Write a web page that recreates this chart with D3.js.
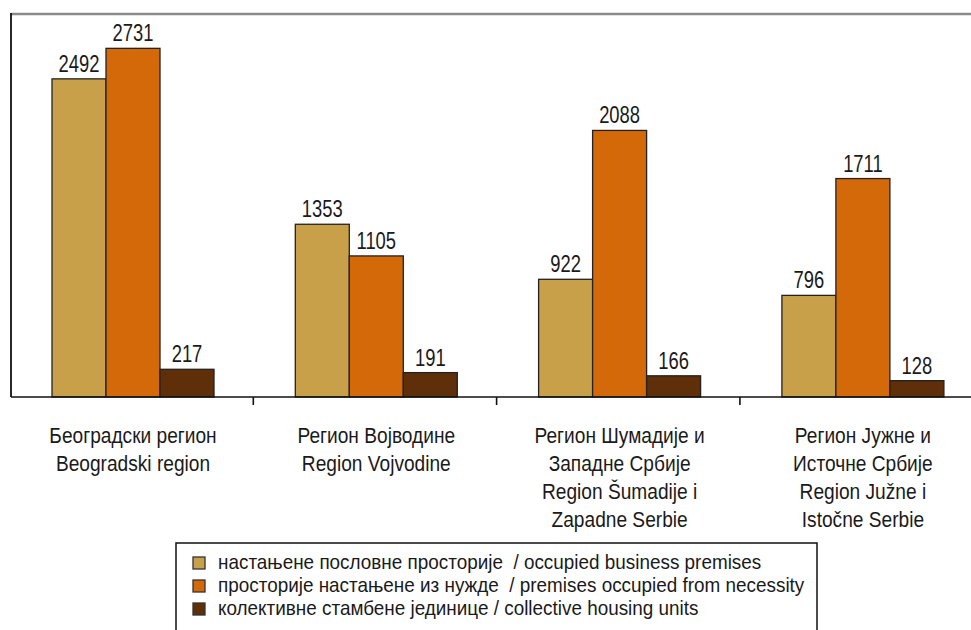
<!DOCTYPE html>
<html>
<head>
<meta charset="utf-8">
<script src="https://cdn.jsdelivr.net/npm/d3@7"></script>
<style>
  body { margin: 0; background: #fff; }
  text { font-family: "Liberation Sans", Arial, sans-serif; fill: #1a1a1a; white-space: pre; }
</style>
</head>
<body>
<svg id="chart" width="971" height="630"></svg>
<script>
// regions (two lines each: Cyrillic + Latin)
var regions = ["beo", "voj", "sum", "juz"];
var regionLabels = [
    ["Београдски регион", "Beogradski region"],
    ["Регион Војводине", "Region Vojvodine"],
    ["Регион Шумадије и", "Западне Србије", "Region Šumadije i", "Zapadne Serbie"],
    ["Регион Јужне и", "Источне Србије", "Region Južne i", "Istočne Serbie"]
];
var seriesNames = [
    "настањене пословне просторије  / occupied business premises",
    "просторије настањене из нужде  / premises occupied from necessity",
    "колективне стамбене јединице / collective housing units"
];
var business = [2492, 1353, 922, 796];
var necessity = [2731, 1105, 2088, 1711];
var collective = [217, 191, 166, 128];
var colors = ["#c9a04a", "#d4690a", "#5e2f08"];

var series = [business, necessity, collective];

var svg = d3.select("#chart");

var plotLeft = 11, plotTop = 14, plotBottom = 397;
var step = 243.3;

// narrow-looking text: put at (x,y) and squeeze horizontally
function narrowText(sel, tx, ty, sx, size, anchor, str) {
    return sel.append("text")
        .attr("transform", "translate(" + tx + "," + ty + ") scale(" + sx + ",1)")
        .attr("text-anchor", anchor)
        .style("font-size", size + "px")
        .text(str);
}

var x = d3.scaleBand()
    .domain(regions)
    .range([plotLeft, plotLeft + step * regions.length])
    .paddingInner(0)
    .paddingOuter(0);

var xInner = d3.scaleBand()
    .domain([0, 1, 2])
    .range([41, 41 + 162]);

var y = d3.scaleLinear()
    .domain([0, 3000])
    .range([plotBottom, plotTop]);

// top frame line
svg.append("line")
    .attr("x1", plotLeft).attr("x2", 971)
    .attr("y1", plotTop).attr("y2", plotTop)
    .style("stroke", "#8a8a8a")
    .style("stroke-width", 2.5);

// bars
var groups = svg.selectAll("g.region")
    .data(regions)
    .enter().append("g")
    .attr("class", "region")
    .attr("transform", function (d) { return "translate(" + x(d) + ",0)"; });

groups.each(function (r, i) {
    var g = d3.select(this);
    series.forEach(function (s, k) {
        g.append("rect")
            .attr("x", xInner(k))
            .attr("y", y(s[i]))
            .attr("width", xInner.bandwidth())
            .attr("height", y(0) - y(s[i]))
            .attr("fill", colors[k])
            .style("stroke", "#222")
            .style("stroke-width", 1.3);
        narrowText(g, xInner(k) + xInner.bandwidth() / 2, y(s[i]) - 7,
            0.8, 23, "middle", s[i]);
    });
});

// left axis line
svg.append("line")
    .attr("x1", plotLeft).attr("x2", plotLeft)
    .attr("y1", plotTop - 1).attr("y2", plotBottom)
    .style("stroke", "#111")
    .style("stroke-width", 1.8);

// x axis
svg.append("line")
    .attr("x1", plotLeft).attr("x2", 971)
    .attr("y1", plotBottom).attr("y2", plotBottom)
    .style("stroke", "#111")
    .style("stroke-width", 1.6);

svg.selectAll("line.tick")
    .data(regions.slice(1))
    .enter().append("line")
    .attr("class", "tick")
    .attr("x1", function (d) { return x(d) - 1; })
    .attr("x2", function (d) { return x(d) - 1; })
    .attr("y1", plotBottom).attr("y2", plotBottom + 8)
    .style("stroke", "#111")
    .style("stroke-width", 1.6);

// category labels
groups.each(function (r, i) {
    var g = d3.select(this);
    regionLabels[i].forEach(function (line, j) {
        narrowText(g, 122, 443 + j * 28, 0.87, 22, "middle", line);
    });
});

// legend
var legend = svg.append("g");
legend.append("rect")
    .attr("x", 176).attr("y", 543)
    .attr("width", 641).attr("height", 100)
    .attr("fill", "#fff")
    .style("stroke", "#111")
    .style("stroke-width", 1.5);

seriesNames.forEach(function (name, k) {
    var base = 569 + k * 23;
    legend.append("rect")
        .attr("x", 193).attr("y", base - 12)
        .attr("width", 12).attr("height", 12)
        .attr("fill", colors[k])
        .style("stroke", "#333")
        .style("stroke-width", 1.3);
    narrowText(legend, 218, base, 0.9, 21, "start", name);
});
</script>
</body>
</html>
